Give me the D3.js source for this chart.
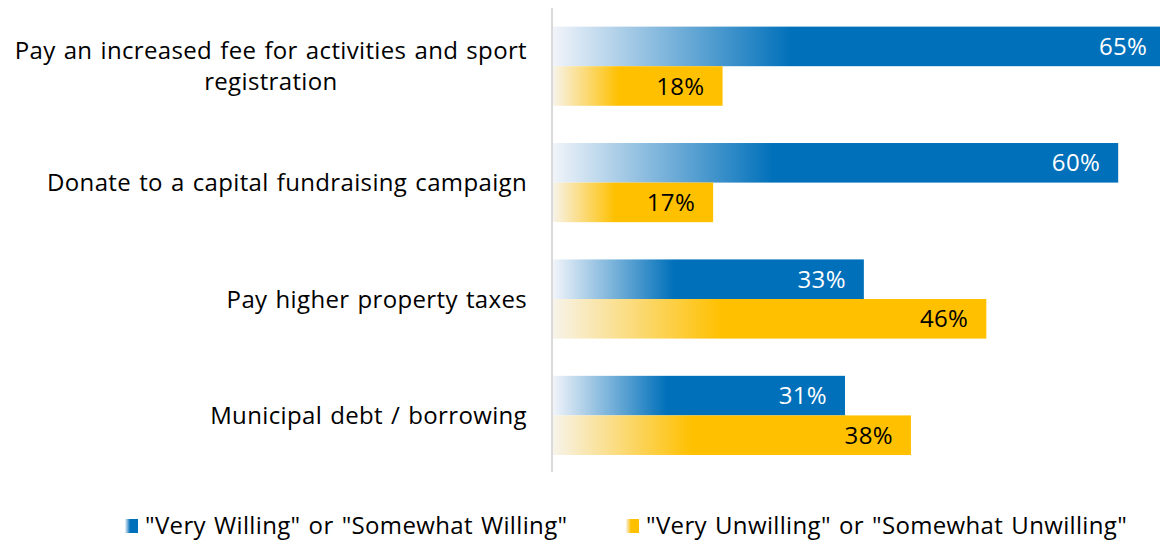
<!DOCTYPE html>
<html>
<head>
<meta charset="utf-8">
<script src="https://cdn.jsdelivr.net/npm/d3@7"></script>
<style>
  html, body { margin: 0; padding: 0; background: #fff; }
  svg { display: block; font-family: "Open Sans", "Noto Sans", Arial, sans-serif; }
  svg text { letter-spacing: 0.35px; word-spacing: 1.5px; }
</style>
</head>
<body>
<svg id="chart" width="1160" height="544"></svg>
<script>
// Survey answers: share of respondents per funding option
const categories = [
  "Pay an increased fee for activities and sport registration",
  "Donate to a capital fundraising campaign",
  "Pay higher property taxes",
  "Municipal debt / borrowing"
];
const willing = [65, 60, 33, 31];
const unwilling = [18, 17, 46, 38];
const seriesNames = [
  "\"Very Willing\" or \"Somewhat Willing\"",
  "\"Very Unwilling\" or \"Somewhat Unwilling\""
];

const W = 1160, H = 544;
const svg = d3.select("#chart");
const fontSize = 24;

const colors = { willing: "#0070ba", unwilling: "#ffc000" };
const fadeFrom = { willing: "#f1f4fa", unwilling: "#f7f3ea" };

// gradients fading in from the left edge of every bar
const defs = svg.append("defs");
["willing", "unwilling"].forEach(k => {
  const g = defs.append("linearGradient").attr("id", "grad-" + k)
    .attr("x1", 0).attr("x2", 1).attr("y1", 0).attr("y2", 0);
  g.append("stop").attr("offset", 0).attr("stop-color", fadeFrom[k]);
  g.append("stop").attr("offset", 0.39).attr("stop-color", colors[k]);
  g.append("stop").attr("offset", 1).attr("stop-color", colors[k]);
});
defs.append("clipPath").attr("id", "clip")
  .append("rect").attr("x", 0).attr("y", 0).attr("width", W).attr("height", H);

const x = d3.scaleLinear().domain([0, 100]).range([553, 553 + 942]);
const y = d3.scaleBand().domain(categories).range([8, 473.6])
  .paddingInner(0.32).paddingOuter(0.16);
const sub = d3.scaleBand().domain(["willing", "unwilling"]).range([0, y.bandwidth()]);

const rows = categories.map((c, i) => ({ c, willing: willing[i], unwilling: unwilling[i] }));

// vertical baseline
svg.append("line")
  .attr("x1", 552).attr("x2", 552)
  .attr("y1", 8).attr("y2", 472)
  .attr("stroke", "#d9d9d9").attr("stroke-width", 2);

const plot = svg.append("g").attr("clip-path", "url(#clip)");

rows.forEach(r => {
  ["willing", "unwilling"].forEach(k => {
    const y0 = y(r.c) + sub(k);
    plot.append("rect")
      .attr("x", x(0))
      .attr("y", y0)
      .attr("width", x(r[k]) - x(0))
      .attr("height", sub.bandwidth())
      .attr("fill", "url(#grad-" + k + ")");
    plot.append("text")
      .attr("x", x(r[k]) - 18)
      .attr("y", y0 + sub.bandwidth() / 2)
      .attr("dy", "0.36em")
      .attr("text-anchor", "end")
      .attr("font-size", fontSize)
      .attr("fill", k === "willing" ? "#ffffff" : "#000000")
      .text(r[k] + "%");
  });
});

// category labels, wrapped to fit the left column and centred within their block
const labelRight = 527, maxWidth = 530, lineH = 31;
rows.forEach(r => {
  const words = r.c.split(" ");
  const probe = svg.append("text").attr("font-size", fontSize);
  const lines = [];
  let cur = [];
  words.forEach(w => {
    const t = cur.concat([w]).join(" ");
    probe.text(t);
    if (probe.node().getComputedTextLength() > maxWidth && cur.length) {
      lines.push(cur.join(" "));
      cur = [w];
    } else cur.push(w);
  });
  lines.push(cur.join(" "));
  const widths = lines.map(l => { probe.text(l); return probe.node().getComputedTextLength(); });
  probe.remove();
  const blockW = d3.max(widths);
  const cx = labelRight - blockW / 2;
  const cy = y(r.c) + y.bandwidth() / 2;
  const t = svg.append("text")
    .attr("font-size", fontSize)
    .attr("fill", "#000")
    .attr("text-anchor", "middle");
  lines.forEach((l, i) => {
    t.append("tspan")
      .attr("x", cx)
      .attr("y", cy + (i - (lines.length - 1) / 2) * lineH)
      .attr("dy", "0.36em")
      .text(l);
  });
});

// legend
const legend = [
  { key: "willing", name: seriesNames[0], x: 125 },
  { key: "unwilling", name: seriesNames[1], x: 626 }
];
legend.forEach(d => {
  svg.append("rect")
    .attr("x", d.x).attr("y", 519)
    .attr("width", 13).attr("height", 14)
    .attr("fill", "url(#grad-" + d.key + ")");
  svg.append("text")
    .attr("x", d.x + 20).attr("y", 525)
    .attr("dy", "0.36em")
    .attr("font-size", fontSize)
    .attr("fill", "#000")
    .text(d.name);
});
</script>
</body>
</html>
